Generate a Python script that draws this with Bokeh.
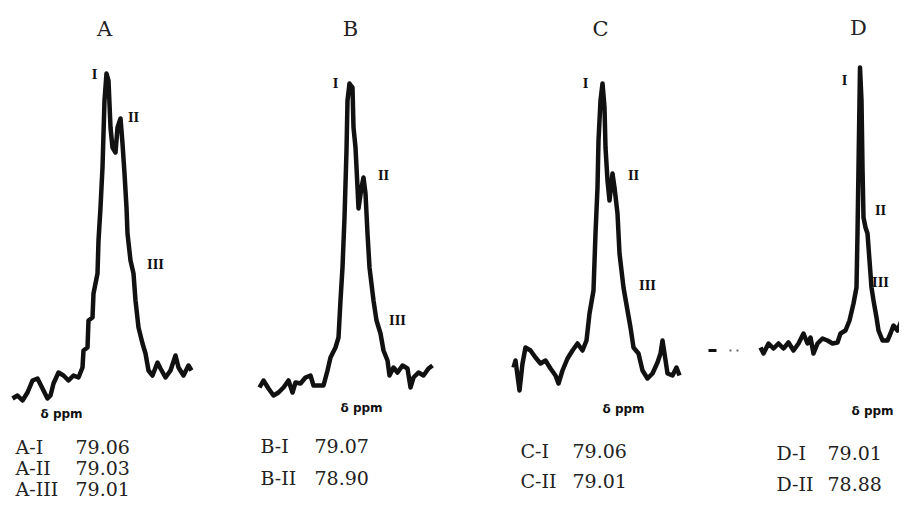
from bokeh.plotting import figure
from bokeh.models import Range1d
from bokeh.embed import file_html
from bokeh.resources import INLINE
from bokeh.core.properties import value

# ---------------- DATA ----------------
# Each spectrum: position along the chemical-shift axis (arbitrary units, left -> right)
# and signal intensity (arbitrary units, 0 = bottom of the noise band).
panel_titles = ["A", "B", "C", "D"]

A_shift = [0, 5, 10, 15, 20, 25, 30, 35, 38, 41, 46, 51, 56, 61, 66, 70, 71, 75, 76, 80,
           81, 85, 86, 88, 90, 91, 92, 94, 96, 98, 100, 103, 105, 108, 110, 112, 114, 115,
           118, 121, 123, 126, 130, 133, 136, 140, 145, 148, 153, 158, 163, 166, 171, 176, 179]
A_int = [2, 5, 0, 8, 20, 22, 12, 2, 5, 17, 28, 25, 20, 25, 23, 33, 50, 53, 80, 83,
         107, 127, 160, 193, 233, 267, 300, 327, 320, 273, 253, 248, 273, 282, 257, 227, 193, 167,
         140, 127, 100, 73, 57, 47, 30, 25, 38, 32, 23, 30, 45, 33, 25, 35, 30]

B_shift = [0, 4, 9, 14, 19, 24, 29, 33, 36, 41, 46, 51, 54, 59, 64, 68, 71, 76, 79, 81,
           83, 85, 87, 88, 90, 93, 94, 96, 98, 99, 102, 104, 106, 108, 110, 114, 117, 121,
           124, 128, 130, 134, 138, 143, 148, 151, 154, 159, 164, 169, 173]
B_int = [13, 20, 12, 5, 8, 13, 20, 8, 18, 17, 23, 25, 15, 15, 15, 30, 43, 53, 63, 100,
         133, 183, 250, 300, 317, 313, 273, 253, 213, 192, 213, 223, 207, 167, 133, 100, 80, 67,
         50, 40, 25, 33, 28, 35, 32, 13, 23, 28, 25, 32, 35]

C_shift = [0, 2, 6, 9, 12, 17, 22, 27, 32, 37, 42, 45, 49, 54, 59, 64, 69, 73, 76, 80,
           82, 84, 85, 87, 89, 91, 92, 94, 96, 99, 101, 104, 106, 110, 114, 117, 120, 125,
           129, 134, 139, 144, 147, 149, 151, 154, 159, 163, 166]
C_int = [33, 40, 10, 37, 53, 50, 43, 37, 40, 32, 25, 17, 30, 42, 50, 57, 50, 60, 87, 110,
         167, 213, 260, 300, 317, 293, 253, 220, 200, 227, 213, 187, 147, 113, 90, 73, 53, 47,
         30, 22, 27, 38, 47, 60, 47, 27, 25, 33, 25]

D_shift = [0, 3, 8, 13, 18, 23, 28, 33, 38, 43, 47, 50, 53, 57, 62, 67, 72, 77, 80, 85,
           89, 93, 96, 97, 98, 99, 99.5, 101, 102, 103, 105, 107, 109, 111, 113, 116, 118, 122,
           127, 130, 133, 137, 141, 143, 146, 148, 151, 154]
D_int = [53, 47, 57, 52, 57, 52, 58, 50, 57, 67, 57, 63, 47, 57, 62, 60, 57, 58, 67, 70,
         80, 97, 113, 167, 233, 300, 333, 300, 233, 183, 173, 167, 140, 113, 100, 83, 70, 60,
         60, 67, 75, 70, 80, 100, 108, 93, 73, 72]
# baseline stub drawn left of spectrum D
D_stub_shift = [-52, -44]
D_stub_int = [50, 50]
D_dot_shift = [-30, -23]
D_dot_int = [50, 50]

peak_marks = ["I", "II", "III"]

A_peaks = ["A-I", "A-II", "A-III"]
A_ppm = [79.06, 79.03, 79.01]
B_peaks = ["B-I", "B-II"]
B_ppm = [79.07, 78.90]
C_peaks = ["C-I", "C-II"]
C_ppm = [79.06, 79.01]
D_peaks = ["D-I", "D-II"]
D_ppm = [79.01, 78.88]

axis_label = "δ ppm"

# ---------------- LAYOUT (pixels of the picture, top-left origin) ----------------
BASE = 400  # picture row of intensity 0
W, H = 899, 498


def yrow(r):
    return BASE - r


panels = [
    dict(x0=12, shift=A_shift, inten=A_int, title=(104, 28), peaks=A_peaks, ppm=A_ppm,
         lab_x=15, val_x=75, rows=[446, 467, 488], axis=(40, 413),
         marks=[(94, 74), (133, 117), (155, 264)]),
    dict(x0=259, shift=B_shift, inten=B_int, title=(350, 28), peaks=B_peaks, ppm=B_ppm,
         lab_x=260, val_x=314, rows=[445, 477], axis=(340, 407),
         marks=[(335, 83), (383, 175), (397, 320)]),
    dict(x0=513, shift=C_shift, inten=C_int, title=(600, 28), peaks=C_peaks, ppm=C_ppm,
         lab_x=520, val_x=572, rows=[450, 480], axis=(602, 408),
         marks=[(585, 83), (633, 175), (647, 285)]),
    dict(x0=760, shift=D_shift, inten=D_int, title=(858, 27), peaks=D_peaks, ppm=D_ppm,
         lab_x=776, val_x=827, rows=[452, 483], axis=(851, 410),
         marks=[(844, 80), (880, 210), (880, 282)]),
]

p = figure(width=W, height=H, output_backend="svg", toolbar_location=None,
           x_range=Range1d(0, W), y_range=Range1d(yrow(H), yrow(0)),
           min_border=0)
p.axis.visible = False
p.xgrid.visible = False
p.ygrid.visible = False
p.outline_line_color = None
p.background_fill_color = "white"
p.border_fill_color = "white"

INK = "#111111"
TXT = "#222222"

for i, pn in enumerate(panels):
    xs = [pn["x0"] + s for s in pn["shift"]]
    p.line(xs, pn["inten"], line_color=INK, line_width=4.5, line_join="round")
    # title
    p.text(x=[pn["title"][0]], y=[yrow(pn["title"][1])], text=[panel_titles[i]],
           text_font=value("DejaVu Serif"), text_font_size="21px",
           text_align="center", text_baseline="middle", text_color=TXT)
    # peak marks I, II, III
    mx = [m[0] for m in pn["marks"]]
    my = [yrow(m[1]) for m in pn["marks"]]
    p.text(x=mx, y=my, text=peak_marks, text_font=value("DejaVu Serif"),
           text_font_size="12px", text_font_style="bold",
           text_align="center", text_baseline="middle", text_color=INK)
    # delta ppm label
    p.text(x=[pn["axis"][0]], y=[yrow(pn["axis"][1])], text=[axis_label],
           text_font=value("DejaVu Sans"), text_font_size="12px", text_font_style="bold",
           text_align="left", text_baseline="middle", text_color=INK)
    # peak table
    ry = [yrow(r) for r in pn["rows"]]
    p.text(x=[pn["lab_x"]] * len(ry), y=ry, text=pn["peaks"],
           text_font=value("DejaVu Serif"), text_font_size="19px",
           text_align="left", text_baseline="middle", text_color=TXT)
    p.text(x=[pn["val_x"]] * len(ry), y=ry, text=[f"{v:.2f}" for v in pn["ppm"]],
           text_font=value("DejaVu Serif"), text_font_size="19px",
           text_align="left", text_baseline="middle", text_color=TXT)

# baseline stub of D
d0 = panels[3]["x0"]
p.line([d0 + s for s in D_stub_shift], D_stub_int, line_color=INK, line_width=3)
p.scatter([d0 + s for s in D_dot_shift], D_dot_int, marker="square", size=2,
          fill_color="#666666", line_color=None)

open("out.html", "w").write(file_html(p, INLINE))
